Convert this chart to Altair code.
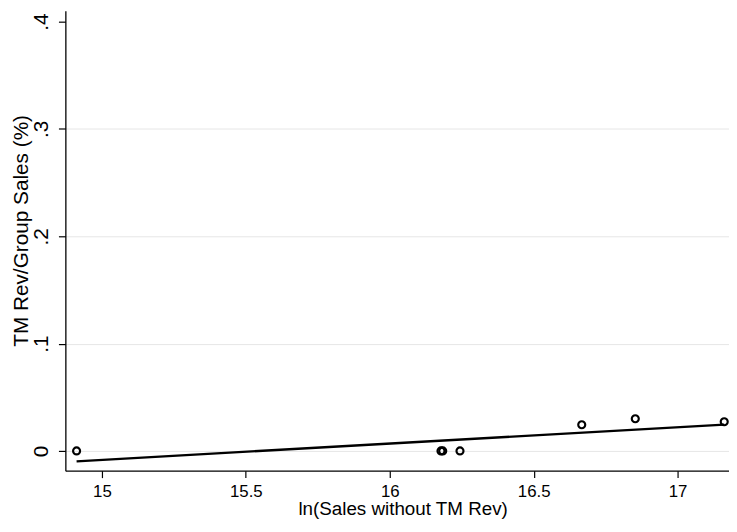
import altair as alt
import pandas as pd

# Data
ln_sales = [14.912, 16.178, 16.184, 16.244, 16.667, 16.853, 17.162]
tm_share = [0.0, 0.0, 0.0, 0.0, 0.0244, 0.0300, 0.0272]

x_ticks = [15, 15.5, 16, 16.5, 17]
y_ticks = [0, 0.1, 0.2, 0.3, 0.4]
y_tick_labels = ["0", ".1", ".2", ".3", ".4"]

df = pd.DataFrame({"x": ln_sales, "y": tm_share})

FONT = "Liberation Sans"
x_scale = alt.Scale(domain=[14.873, 17.1786], nice=False, zero=False)
y_scale = alt.Scale(domain=[-0.0184, 0.4101], nice=False, zero=False)

label_expr = " : ".join(
    f"datum.value == {v} ? '{t}'" for v, t in zip(y_ticks, y_tick_labels)
) + " : ''"

x_axis = alt.Axis(
    title="ln(Sales without TM Rev)", values=x_ticks, grid=False, format="~g",
    labelFont=FONT, labelFontSize=17, labelColor="black",
    labelBaseline="alphabetic", labelPadding=19, labelFlush=False,
    tickSize=7, tickColor="black", tickWidth=1.2,
    domainColor="black", domainWidth=1.3,
    titleFont=FONT, titleFontSize=19, titleFontWeight="normal", titleColor="black",
    titleX=341, titleY=44, titleAlign="center", titleBaseline="alphabetic",
)

y_axis = alt.Axis(
    title="TM Rev/Group Sales (%)", values=y_ticks, labelExpr=label_expr,
    grid=True, gridColor="#e6e6e6", gridWidth=1,
    gridOpacity={"condition": {"test": "datum.value > 0.35", "value": 0}, "value": 1},
    labelFont=FONT, labelFontSize=21, labelColor="black",
    labelAngle=270, labelAlign="center", labelBaseline="alphabetic", labelPadding=11,
    labelFlush=False,
    tickSize=7, tickColor="black", tickWidth=1.2,
    domainColor="black", domainWidth=1.3,
    titleFont=FONT, titleFontSize=21, titleFontWeight="normal", titleColor="black",
    titleAngle=270, titleX=-38, titleY=222, titleAlign="center", titleBaseline="alphabetic",
)

points = alt.Chart(df).mark_point(
    shape="circle", filled=False, color="black", size=50, strokeWidth=2.2, opacity=1
).encode(
    x=alt.X("x:Q", scale=x_scale, axis=x_axis),
    y=alt.Y("y:Q", scale=y_scale, axis=y_axis),
)

fit = alt.Chart(df).transform_regression("x", "y").mark_line(
    color="black", strokeWidth=2.4
).encode(
    x=alt.X("x:Q", scale=x_scale),
    y=alt.Y("y:Q", scale=y_scale),
)

chart = alt.layer(fit, points).properties(
    width=671, height=465,
    autosize=alt.AutoSizeParams(type="none"),
    padding={"left": 58, "top": 0, "right": 0, "bottom": 46},
    background="white",
).configure_view(stroke=None)

chart.save("out.html", embed_options={"renderer": "svg", "actions": False})
